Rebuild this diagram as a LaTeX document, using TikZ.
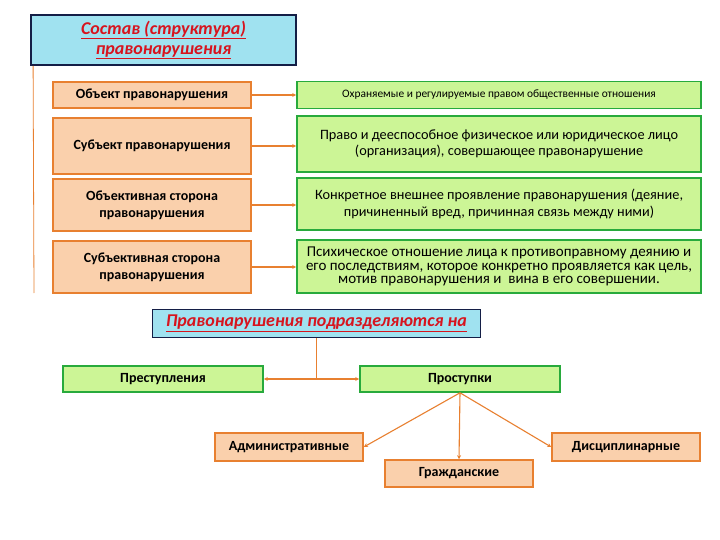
\documentclass[tikz,border=0pt]{standalone}
\usepackage{fontspec}
\setmainfont{Carlito}
\usetikzlibrary{arrows.meta}
\definecolor{cyanfill}{RGB}{160,226,240}
\definecolor{navy}{RGB}{20,30,70}
\definecolor{peach}{RGB}{250,208,172}
\definecolor{orangeb}{RGB}{232,128,48}
\definecolor{greenfill}{RGB}{204,245,150}
\definecolor{greenb}{RGB}{40,170,60}
\definecolor{titlered}{RGB}{215,20,30}
\tikzset{
  titlebox/.style={draw=navy, line width=1.8pt, fill=cyanfill, align=center, inner sep=1pt,
    font=\fontsize{18}{20}\selectfont\bfseries\itshape, text=titlered},
  obox/.style={draw=orangeb, line width=1.6pt, fill=peach, align=center, inner sep=1pt,
    font=\fontsize{14}{17}\selectfont\bfseries},
  gbox/.style={draw=greenb, line width=1.6pt, fill=greenfill, align=center, inner sep=1pt,
    font=\fontsize{14.3}{16.5}\selectfont},
  conn/.style={draw=orangeb, line width=1.1pt},
  arr/.style={conn, -{Stealth[length=4pt,width=4pt]}}
}
\newcommand{\ul}[1]{\underline{#1}}
\begin{document}
\begin{tikzpicture}[x=1pt,y=-1pt]
\useasboundingbox (0,0) rectangle (720,540);
\fill[white] (0,0) rectangle (720,540);
% title 1
\node[titlebox, minimum width=265pt, minimum height=50pt] (t1) at (163.5,40) {\ul{Состав (структура)}\\\ul{правонарушения}};
\coordinate (vtop) at ([xshift=3pt]t1.south west);
\coordinate (vbot) at (34,293);
\draw[draw=orangeb, line width=0.8pt] (vtop) -- (vbot);
% left boxes
\node[obox, minimum width=198pt, minimum height=26pt] (l1) at (152,95) {Объект правонарушения};
\node[obox, minimum width=198pt, minimum height=56pt] (l2) at (152,146) {Субъект правонарушения};
\node[obox, minimum width=198pt, minimum height=52pt] (l3) at (152,205) {Объективная сторона\\правонарушения};
\node[obox, minimum width=198pt, minimum height=52pt] (l4) at (152,267) {Субъективная сторона\\правонарушения};
% right boxes
\node[gbox, minimum width=404pt, minimum height=27pt, font=\fontsize{11.4}{13}\selectfont] (r1) at (499,95) {Охраняемые и регулируемые правом общественные отношения};
\node[gbox, minimum width=404pt, minimum height=56pt] (r2) at (499,144) {Право и дееспособное физическое или юридическое лицо\\(организация), совершающее правонарушение};
\node[gbox, minimum width=404pt, minimum height=52pt] (r3) at (499,204) {Конкретное внешнее проявление правонарушения (деяние,\\причиненный вред, причинная связь между ними)};
\node[gbox, minimum width=404pt, minimum height=53pt, font=\fontsize{15}{13.8}\selectfont] (r4) at (499,266.5) {Психическое отношение лица к противоправному деянию и\\его последствиям, которое конкретно проявляется как цель,\\мотив правонарушения и\ \ вина в его совершении.};
\draw[arr] (l1.east) -- (r1.west|-l1.east);
\draw[arr] (l2.east) -- (r2.west|-l2.east);
\draw[arr] (l3.east) -- (r3.west|-l3.east);
\draw[arr] (l4.east) -- (r4.west|-l4.east);
% title 2
\node[titlebox, minimum width=328pt, minimum height=28pt] (t2) at (316.5,323.5) {\ul{Правонарушения подразделяются на}};
\node[gbox, minimum width=200pt, minimum height=26pt, font=\fontsize{14}{16}\selectfont\bfseries] (p1) at (163,379) {Преступления};
\node[gbox, minimum width=200pt, minimum height=26pt, font=\fontsize{14}{16}\selectfont\bfseries] (p2) at (460,379) {Проступки};
\coordinate (mid) at (t2.south |- p1.east);
\draw[draw=orangeb, line width=0.8pt] (t2.south) -- (mid);
\draw[arr] (mid) -- (p1.east);
\draw[arr] (mid) -- (p2.west);
% bottom
\node[obox, minimum width=148pt, minimum height=28pt] (a) at (289,447) {Административные};
\node[obox, minimum width=148pt, minimum height=28pt] (d) at (626,447) {Дисциплинарные};
\node[obox, minimum width=148pt, minimum height=27pt] (g) at (459,473.5) {Гражданские};
\draw[arr] (p2.south) -- (a.east);
\draw[arr] (p2.south) -- (g.north);
\draw[arr] (p2.south) -- (d.west);
\end{tikzpicture}
\end{document}
